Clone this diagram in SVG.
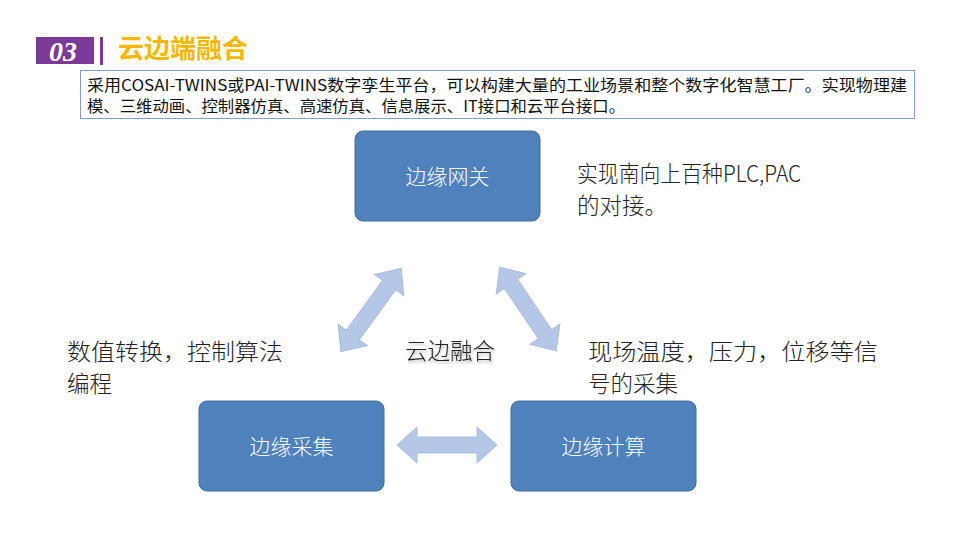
<svg xmlns="http://www.w3.org/2000/svg" width="960" height="540" viewBox="0 0 960 540">
<defs>
<style>
.node rect{fill:#4F81BD;stroke:#41719C;stroke-width:1}
.node text{fill:#fff;font-family:"Noto Sans CJK SC","Liberation Sans",sans-serif;font-size:21px;font-weight:300;text-anchor:middle}
.lbl{fill:#222;font-family:"Noto Sans CJK SC","Liberation Sans",sans-serif;font-size:22.5px;font-weight:300}
.arr{fill:#B4C7E7;stroke:#A9BDDD;stroke-width:1}
.desc{fill:#111;font-family:"Noto Sans CJK SC","Liberation Sans",sans-serif;font-size:15.5px}
</style>
<filter id="sh" x="-10%" y="-30%" width="130%" height="170%">
<feDropShadow dx="1" dy="2" stdDeviation="1.5" flood-color="#000" flood-opacity="0.35"/>
</filter>
<path id="dbl" d="M-50,0 L-30,-18 L-30,-8 L30,-8 L30,-18 L50,0 L30,18 L30,8 L-30,8 L-30,18 Z"/>
</defs>
<rect width="960" height="540" fill="#fff"/>
<g id="header">
<rect x="36" y="37" width="58" height="27" fill="#7B3A96"/>
<text x="63" y="61" fill="#fff" font-family="Liberation Serif,serif" font-size="28" font-weight="bold" font-style="italic" text-anchor="middle">03</text>
<rect x="100" y="37" width="3" height="28" fill="#7B3A96"/>
<text x="118" y="58" fill="#F5B800" font-family="Noto Sans CJK SC,sans-serif" font-size="26" font-weight="bold">云边端融合</text>
</g>
<g id="desc">
<rect x="80.5" y="70.5" width="834" height="48" fill="#fff" stroke="#7F9FCF" stroke-width="1"/>
<text class="desc" x="87" y="91" textLength="820" lengthAdjust="spacingAndGlyphs">采用COSAI-TWINS或PAI-TWINS数字孪生平台，可以构建大量的工业场景和整个数字化智慧工厂。实现物理建</text>
<text class="desc" x="87" y="112" textLength="538" lengthAdjust="spacingAndGlyphs">模、三维动画、控制器仿真、高速仿真、信息展示、IT接口和云平台接口。</text>
</g>
<g id="connectors">
<use href="#dbl" class="arr" transform="translate(371,310) rotate(-54) scale(1.03,1)"/>
<use href="#dbl" class="arr" transform="translate(528,309) rotate(56) scale(1.01,1)"/>
<use href="#dbl" class="arr" transform="translate(447,445)"/>
</g>
<g id="gateway" class="node">
<rect x="355" y="131" width="185" height="90" rx="8"/>
<text x="447.5" y="184">边缘网关</text>
</g>
<g id="collect" class="node">
<rect x="199" y="401" width="185" height="90" rx="8"/>
<text x="291.5" y="454">边缘采集</text>
</g>
<g id="compute" class="node">
<rect x="511" y="401" width="185" height="90" rx="8"/>
<text x="603.5" y="454">边缘计算</text>
</g>
<g id="labels">
<text class="lbl" x="577" y="182" textLength="224" lengthAdjust="spacingAndGlyphs">实现南向上百种PLC,PAC</text>
<text class="lbl" x="577" y="214">的对接。</text>
<text class="lbl" x="67" y="360" textLength="216" lengthAdjust="spacingAndGlyphs">数值转换，控制算法</text>
<text class="lbl" x="67" y="392">编程</text>
<text class="lbl" x="588" y="360" textLength="290" lengthAdjust="spacingAndGlyphs">现场温度，压力，位移等信</text>
<text class="lbl" x="588" y="392">号的采集</text>
<text class="lbl" x="450" y="359" font-size="23.5" text-anchor="middle" filter="url(#sh)">云边融合</text>
</g>
</svg>
